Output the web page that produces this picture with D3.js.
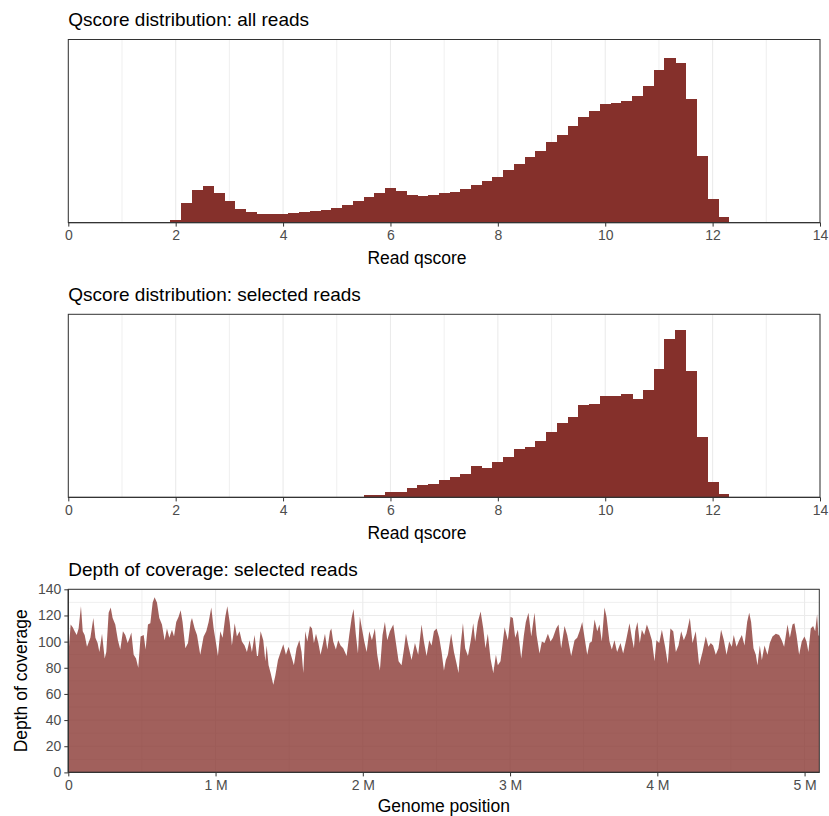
<!DOCTYPE html>
<html>
<head>
<meta charset="utf-8">
<script src="https://cdn.jsdelivr.net/npm/d3@7"></script>
<style>
  body { margin: 0; background: #fff; }
  text { font-family: "Liberation Sans", Arial, Helvetica, sans-serif; }
</style>
</head>
<body>
<svg id="chart" width="829" height="816"></svg>
<script>
// histogram bins (bin centres, width 0.2)
var qscoreBins = [1.8, 2.0, 2.2, 2.4, 2.6, 2.8, 3.0, 3.2, 3.4, 3.6, 3.8, 4.0, 4.2, 4.4, 4.6, 4.8, 5.0, 5.2, 5.4, 5.6,
    5.8, 6.0, 6.2, 6.4, 6.6, 6.8, 7.0, 7.2, 7.4, 7.6, 7.8, 8.0, 8.2, 8.4, 8.6, 8.8, 9.0, 9.2, 9.4, 9.6,
    9.8, 10.0, 10.2, 10.4, 10.6, 10.8, 11.0, 11.2, 11.4, 11.6, 11.8, 12.0, 12.2, 12.4, 12.6, 12.8];
var allCounts = [0, 8, 59, 98, 110, 89, 65, 41, 32, 26, 26, 26, 29, 32, 35, 38, 44, 53, 65, 77,
    89, 104, 95, 83, 80, 83, 89, 92, 101, 113, 125, 137, 158, 176, 197, 215, 242, 263, 290, 317,
    335, 356, 359, 365, 380, 410, 458, 494, 479, 371, 200, 71, 17, 2, 1, 0];
var selCounts = [0, 0, 0, 0, 0, 0, 0, 0, 0, 0, 0, 0, 0, 0, 0, 0, 0, 0, 1, 7,
    7, 16, 16, 28, 37, 40, 52, 61, 70, 94, 88, 106, 121, 145, 151, 169, 196, 223, 241, 277,
    280, 304, 304, 310, 295, 322, 385, 475, 502, 379, 181, 46, 10, 2, 1, 1];
var qTicks = [0, 2, 4, 6, 8, 10, 12, 14];
var qMinor = [1, 3, 5, 7, 9, 11, 13];

// depth of coverage (position in kb, depth)
var covPos = [0, 16, 30, 43, 57, 70, 86, 98, 111, 127, 150, 170, 184, 199, 211, 229, 247, 258, 274, 288,
    301, 319, 337, 353, 371, 387, 403, 417, 428, 444, 460, 475, 491, 512, 525, 541, 557, 573, 586, 602,
    618, 636, 654, 670, 686, 704, 718, 733, 749, 763, 776, 795, 813, 831, 840, 858, 874, 896, 919, 937,
    953, 971, 987, 1003, 1016, 1032, 1048, 1066, 1080, 1096, 1111, 1130, 1145, 1163, 1179, 1197, 1213, 1231, 1247, 1265,
    1281, 1288, 1306, 1324, 1338, 1347, 1360, 1374, 1392, 1406, 1424, 1442, 1460, 1478, 1496, 1514, 1532, 1550, 1569, 1584,
    1596, 1609, 1623, 1641, 1655, 1668, 1682, 1698, 1713, 1727, 1743, 1759, 1777, 1786, 1799, 1817, 1833, 1849, 1867, 1890,
    1908, 1924, 1937, 1953, 1967, 1980, 1994, 2010, 2026, 2044, 2062, 2082, 2098, 2116, 2134, 2150, 2166, 2184, 2207, 2225,
    2243, 2263, 2279, 2293, 2309, 2331, 2354, 2376, 2399, 2415, 2433, 2451, 2467, 2483, 2501, 2519, 2535, 2551, 2564,
    2578, 2600, 2619, 2637, 2650, 2664, 2680, 2695, 2714, 2732, 2750, 2763, 2781, 2800, 2818, 2833, 2849, 2867, 2886, 2904,
    2917, 2935, 2951, 2963, 2985, 3003, 3019, 3035, 3053, 3076, 3094, 3107, 3125, 3144, 3166, 3180, 3200, 3216, 3234, 3257,
    3275, 3291, 3313, 3329, 3347, 3370, 3388, 3415, 3438, 3456, 3472, 3490, 3506, 3524, 3540, 3555, 3574, 3592, 3607, 3623,
    3641, 3655, 3675, 3691, 3709, 3727, 3750, 3768, 3788, 3811, 3827, 3841,
    3850, 3865, 3881, 3895, 3911, 3929, 3945, 3963, 3981, 3994, 4013, 4031, 4053, 4071, 4089, 4108, 4126, 4144, 4162, 4180,
    4198, 4221, 4239, 4261, 4284, 4307, 4329, 4347, 4363, 4379, 4397, 4415, 4433, 4452, 4470, 4488, 4506, 4519, 4538, 4556,
    4574, 4592, 4610, 4624, 4637, 4653, 4669, 4680, 4696, 4710, 4728, 4748, 4764, 4782, 4805, 4827, 4845, 4861, 4884, 4900,
    4918, 4931, 4945, 4963, 4981, 4999, 5013, 5026, 5042, 5058, 5072, 5085, 5094, 5100];
var covDepth = [89, 113, 111, 108, 105, 110, 127, 108, 105, 96, 103, 118, 103, 99, 92, 106, 87, 92, 122, 126,
    118, 113, 101, 94, 108, 105, 99, 103, 107, 90, 87, 80, 104, 105, 94, 113, 114, 130, 134, 130,
    118, 113, 101, 110, 103, 109, 104, 115, 119, 124, 115, 95, 99, 115, 118, 110, 105, 90, 104, 108,
    115, 126, 110, 99, 89, 108, 103, 119, 127, 115, 97, 114, 104, 108, 100, 97, 92, 101, 92, 105,
    89, 89, 108, 101, 85, 97, 82, 76, 67, 74, 86, 92, 98, 90, 96, 89, 82, 95, 101, 92,
    76, 108, 100, 112, 110, 99, 106, 99, 90, 97, 106, 94, 108, 110, 100, 94, 101, 97, 95, 89,
    105, 118, 125, 105, 91, 119, 110, 100, 92, 108, 101, 110, 90, 78, 105, 115, 101, 108, 113, 99,
    85, 82, 94, 106, 97, 86, 99, 90, 113, 100, 89, 101, 97, 108, 110, 103, 92, 78, 86,
    90, 106, 92, 83, 76, 97, 114, 95, 89, 100, 114, 100, 115, 123, 110, 95, 106, 87, 76, 90,
    82, 85, 100, 111, 101, 119, 118, 103, 109, 87, 105, 115, 122, 104, 122, 105, 91, 100, 99, 106,
    100, 103, 110, 113, 95, 112, 105, 89, 101, 103, 108, 115, 103, 90, 99, 100, 117, 108, 113, 100,
    126, 119, 100, 94, 101, 92, 99, 91, 101, 114, 103, 95,
    108, 115, 99, 109, 105, 113, 108, 101, 85, 101, 99, 109, 96, 83, 110, 108, 92, 97, 108, 101,
    106, 118, 99, 108, 82, 92, 104, 96, 99, 97, 90, 95, 109, 101, 90, 100, 96, 105, 96, 101,
    105, 97, 115, 122, 115, 95, 90, 82, 97, 86, 97, 90, 99, 104, 106, 105, 101, 96, 113, 103,
    113, 114, 105, 90, 100, 104, 100, 92, 110, 112, 108, 121, 105, 104];
var posTicks = [0, 1000000, 2000000, 3000000, 4000000, 5000000];
var posMinor = [500000, 1500000, 2500000, 3500000, 4500000];
var depthTicks = [0, 20, 40, 60, 80, 100, 120, 140];
var depthMinor = [10, 30, 50, 70, 90, 110, 130];

var svg = d3.select("#chart");
var left = 68.3, right = 820, panelH = 183.1;
var barColor = "#85302b", tickColor = "#4d4d4d";

function styleAxis(ax) {
    ax.select(".domain").remove();
    ax.selectAll(".tick line").attr("stroke", "#333").attr("stroke-width", 1);
    ax.selectAll(".tick text").attr("fill", tickColor).style("font-size", "14px");
}

function histPanel(top, counts, yMax, title) {
    var bottom = top + panelH;
    var x = d3.scaleLinear().domain([0, 14]).range([left, right]);
    var y = d3.scaleLinear().domain([0, yMax]).range([bottom, top]);
    var g = svg.append("g");

    g.selectAll(".gmin").data(qMinor).enter().append("line")
        .attr("x1", function(d) { return x(d); }).attr("x2", function(d) { return x(d); })
        .attr("y1", top).attr("y2", bottom)
        .attr("stroke", "#ebebeb").attr("stroke-width", 0.8);
    g.selectAll(".gmaj").data(qTicks).enter().append("line")
        .attr("x1", function(d) { return x(d); }).attr("x2", function(d) { return x(d); })
        .attr("y1", top).attr("y2", bottom)
        .attr("stroke", "#ebebeb").attr("stroke-width", 1.1);

    var bins = qscoreBins.map(function(b, i) { return {q: b, n: counts[i]}; })
        .filter(function(d) { return d.n > 0; });
    g.selectAll(".bar").data(bins).enter().append("rect")
        .attr("x", function(d) { return x(d.q - 0.1); })
        .attr("width", function(d) { return x(d.q + 0.1) - x(d.q - 0.1) + 0.6; })
        .attr("y", function(d) { return y(d.n); })
        .attr("height", function(d) { return bottom - y(d.n); })
        .attr("fill", barColor)
        .attr("shape-rendering", "crispEdges");

    g.append("rect")
        .attr("x", left).attr("y", top).attr("width", right - left).attr("height", panelH)
        .attr("fill", "none").attr("stroke", "#333").attr("stroke-width", 1);
    g.append("line").attr("x1", left).attr("x2", right).attr("y1", bottom).attr("y2", bottom)
        .attr("stroke", "#333").attr("stroke-width", 1.3);

    var ax = g.append("g")
        .attr("transform", "translate(0," + bottom + ")")
        .call(d3.axisBottom(x).tickValues(qTicks).tickSize(4).tickPadding(3.5));
    styleAxis(ax);

    g.append("text")
        .attr("x", left).attr("y", top - 13.5)
        .style("font-size", "19px").attr("fill", "#000")
        .text(title);
    g.append("text")
        .attr("x", 417).attr("y", bottom + 41.5)
        .attr("text-anchor", "middle")
        .style("font-size", "17.5px").attr("fill", "#000")
        .text("Read qscore");
}

histPanel(39.5, allCounts, 550, "Qscore distribution: all reads");
histPanel(314.3, selCounts, 549, "Qscore distribution: selected reads");

// coverage panel
var cTop = 589.3, cBottom = cTop + panelH, cRight = 819.3;
var xc = d3.scaleLinear().domain([0, 5100000]).range([left, cRight]);
var yc = d3.scaleLinear().domain([0, 140]).range([cBottom, cTop]);
var g3 = svg.append("g");

g3.selectAll(".hmin").data(depthMinor).enter().append("line")
    .attr("x1", left).attr("x2", cRight)
    .attr("y1", function(d) { return yc(d); }).attr("y2", function(d) { return yc(d); })
    .attr("stroke", "#ebebeb").attr("stroke-width", 0.8);
g3.selectAll(".hmaj").data(depthTicks).enter().append("line")
    .attr("x1", left).attr("x2", cRight)
    .attr("y1", function(d) { return yc(d); }).attr("y2", function(d) { return yc(d); })
    .attr("stroke", "#ebebeb").attr("stroke-width", 1.1);
g3.selectAll(".vmin").data(posMinor).enter().append("line")
    .attr("x1", function(d) { return xc(d); }).attr("x2", function(d) { return xc(d); })
    .attr("y1", cTop).attr("y2", cBottom)
    .attr("stroke", "#ebebeb").attr("stroke-width", 0.8);
g3.selectAll(".vmaj").data(posTicks).enter().append("line")
    .attr("x1", function(d) { return xc(d); }).attr("x2", function(d) { return xc(d); })
    .attr("y1", cTop).attr("y2", cBottom)
    .attr("stroke", "#ebebeb").attr("stroke-width", 1.1);

var covData = covPos.map(function(p, i) { return {pos: p * 1000, depth: covDepth[i]}; });
var area = d3.area()
    .x(function(d) { return xc(d.pos); })
    .y0(yc(0))
    .y1(function(d) { return yc(d.depth); });
g3.append("path").datum(covData)
    .attr("d", area)
    .attr("fill", barColor).attr("fill-opacity", 0.77);

g3.append("rect")
    .attr("x", left).attr("y", cTop).attr("width", cRight - left).attr("height", panelH)
    .attr("fill", "none").attr("stroke", "#333").attr("stroke-width", 1);
g3.append("line").attr("x1", left).attr("x2", cRight).attr("y1", cBottom).attr("y2", cBottom)
    .attr("stroke", "#333").attr("stroke-width", 1.3);
g3.append("line").attr("x1", left).attr("x2", left).attr("y1", cTop).attr("y2", cBottom)
    .attr("stroke", "#333").attr("stroke-width", 1.3);

var axc = g3.append("g")
    .attr("transform", "translate(0," + cBottom + ")")
    .call(d3.axisBottom(xc).tickValues(posTicks).tickSize(4).tickPadding(3.5)
        .tickFormat(function(d) { return d === 0 ? "0" : (d / 1000000) + " M"; }));
styleAxis(axc);
var ayc = g3.append("g")
    .attr("transform", "translate(" + left + ",0)")
    .call(d3.axisLeft(yc).tickValues(depthTicks).tickSize(4).tickPadding(3));
styleAxis(ayc);

g3.append("text")
    .attr("x", left).attr("y", cTop - 13.5)
    .style("font-size", "19px").attr("fill", "#000")
    .text("Depth of coverage: selected reads");
g3.append("text")
    .attr("x", (left + cRight) / 2).attr("y", cBottom + 40)
    .attr("text-anchor", "middle")
    .style("font-size", "17.5px").attr("fill", "#000")
    .text("Genome position");
g3.append("text")
    .attr("transform", "translate(27," + (cTop + cBottom) / 2 + ") rotate(-90)")
    .attr("text-anchor", "middle")
    .style("font-size", "17.5px").attr("fill", "#000")
    .text("Depth of coverage");
</script>
</body>
</html>
